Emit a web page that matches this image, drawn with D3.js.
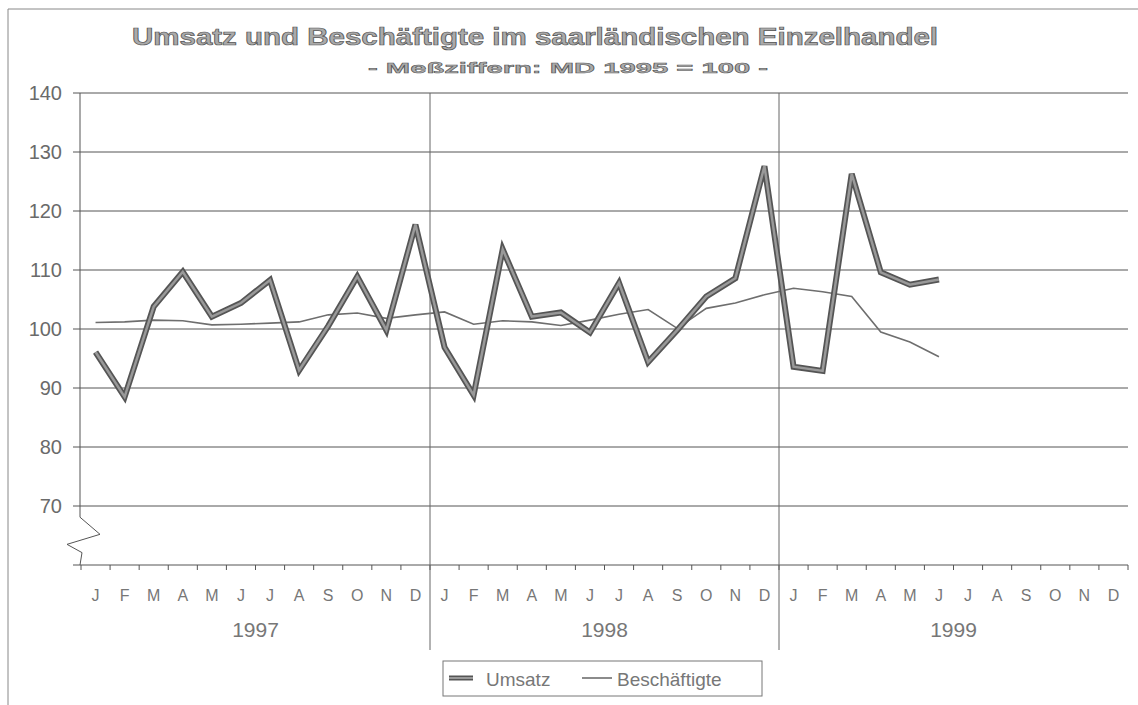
<!DOCTYPE html>
<html>
<head>
  <meta charset='utf-8'>
  <title>Umsatz und Beschäftigte</title>
  <style type='text/css'>
body{
  margin:0;
  background:#fff;
}
text{
  font-family:'Liberation Sans', Arial, sans-serif;
}
  </style>
</head>
<body>
<div id='chart'></div>
<script src='https://d3js.org/d3.v7.min.js'></script>
<script type='text/javascript'>

// data
var months = ['J','F','M','A','M','J','J','A','S','O','N','D'];
var years = ['1997','1998','1999'];
var yTicks = [70, 80, 90, 100, 110, 120, 130, 140];

var umsatz = [96.1, 88.5, 103.8, 109.7, 102.1, 104.4, 108.3, 93.0, 100.5, 108.9, 99.8, 117.7,
              96.9, 88.8, 113.5, 102.1, 102.8, 99.4, 107.8, 94.4, 99.8, 105.5, 108.6, 127.6,
              93.6, 92.9, 126.3, 109.6, 107.5, 108.4];
var beschaeftigte = [101.1, 101.2, 101.5, 101.4, 100.7, 100.8, 101.0, 101.2, 102.4, 102.7, 101.8, 102.4,
                     102.9, 100.8, 101.4, 101.2, 100.6, 101.5, 102.5, 103.3, 100.1, 103.5, 104.4, 105.8,
                     106.9, 106.3, 105.5, 99.5, 97.8, 95.3];

(function(){
var W = 1138, H = 705;
var pL = 81, pR = 1128, pT = 93, pB = 565;

var svg = d3.select('#chart').append('svg')
    .attr('width', W)
    .attr('height', H);

// frame (top + left edge of the scanned page)
svg.append('line').attr('x1', 8).attr('x2', W).attr('y1', 9).attr('y2', 9)
   .style('stroke', '#888').style('stroke-width', 1);
svg.append('line').attr('x1', 8).attr('x2', 8).attr('y1', 9).attr('y2', H)
   .style('stroke', '#888').style('stroke-width', 1);

// slots: one per month over 3 years
var slots = d3.range(years.length * 12);
var x = d3.scaleBand().domain(slots).range([pL, pR]);
var y = d3.scaleLinear().domain([60, 140]).range([pB, pT]);

// gridlines + y labels
svg.selectAll('.grid').data(yTicks).enter().append('line')
   .attr('x1', pL - 8).attr('x2', pR)
   .attr('y1', function(d){ return y(d); })
   .attr('y2', function(d){ return y(d); })
   .style('stroke', '#555').style('stroke-width', 1);

svg.selectAll('.ylab').data(yTicks).enter().append('text')
   .attr('x', 62)
   .attr('y', function(d){ return y(d) + 7; })
   .attr('text-anchor', 'end')
   .style('font-size', '20px')
   .style('fill', '#6a6a6a')
   .text(function(d){ return d; });

// x axis line + ticks at month boundaries
svg.append('line').attr('x1', pL - 8).attr('x2', pR)
   .attr('y1', y(60)).attr('y2', y(60))
   .style('stroke', '#555').style('stroke-width', 1);
svg.selectAll('.xtick').data(d3.range(slots.length + 1)).enter().append('line')
   .attr('x1', function(i){ return pL + i * x.step(); })
   .attr('x2', function(i){ return pL + i * x.step(); })
   .attr('y1', y(60)).attr('y2', y(60) + 5)
   .style('stroke', '#555').style('stroke-width', 1);

// y axis with the broken-scale zigzag
var brk = [[0, 140], [0, 68.1], [20, 65.2], [-13, 63.5], [2, 62.1], [0, 60]];
svg.append('path')
   .attr('d', d3.line()
       .x(function(p){ return pL - 1 + p[0]; })
       .y(function(p){ return y(p[1]); })(brk))
   .style('fill', 'none').style('stroke', '#555').style('stroke-width', 1);

// year separators
svg.selectAll('.sep').data([1, 2]).enter().append('line')
   .attr('x1', function(k){ return x(k * 12); })
   .attr('x2', function(k){ return x(k * 12); })
   .attr('y1', pT).attr('y2', 650)
   .style('stroke', '#666').style('stroke-width', 1);

// month labels
svg.selectAll('.mlab').data(slots).enter().append('text')
   .attr('x', function(i){ return x(i) + x.bandwidth() / 2; })
   .attr('y', 601)
   .attr('text-anchor', 'middle')
   .style('font-size', '16px')
   .style('fill', '#777')
   .text(function(i){ return months[i % 12]; });

// year labels
svg.selectAll('.ylabel').data(years).enter().append('text')
   .attr('x', function(d, k){ return x(k * 12) + 6 * x.step(); })
   .attr('y', 637)
   .attr('text-anchor', 'middle')
   .style('font-size', '21px')
   .style('fill', '#777')
   .text(function(d){ return d; });

// series
var line = d3.line()
   .x(function(d, i){ return x(i) + x.bandwidth() / 2; })
   .y(function(d){ return y(d); });

svg.append('path').attr('d', line(beschaeftigte))
   .style('fill', 'none').style('stroke', '#6e6e6e').style('stroke-width', 1.6);

svg.append('path').attr('d', line(umsatz))
   .style('fill', 'none').style('stroke', '#555').style('stroke-width', 6)
   .style('stroke-linejoin', 'miter');
svg.append('path').attr('d', line(umsatz))
   .style('fill', 'none').style('stroke', '#999').style('stroke-width', 2.5)
   .style('stroke-linejoin', 'miter');

// title
svg.append('text')
   .attr('x', 535).attr('y', 45)
   .attr('text-anchor', 'middle')
   .attr('textLength', 806).attr('lengthAdjust', 'spacingAndGlyphs')
   .style('font-size', '23px').style('font-weight', 'bold')
   .style('fill', '#aaa').style('stroke', '#555').style('stroke-width', 0.7)
   .text('Umsatz und Beschäftigte im saarländischen Einzelhandel');

svg.append('text')
   .attr('x', 568).attr('y', 73)
   .attr('text-anchor', 'middle')
   .attr('textLength', 400).attr('lengthAdjust', 'spacingAndGlyphs')
   .style('font-size', '15px').style('font-weight', 'bold')
   .style('fill', '#aaa').style('stroke', '#555').style('stroke-width', 0.5)
   .text('- Meßziffern: MD 1995 = 100 -');

// legend
var lg = svg.append('g').attr('transform', 'translate(443,661)');
lg.append('rect').attr('width', 319).attr('height', 35)
  .style('fill', '#fff').style('stroke', '#777').style('stroke-width', 1);
lg.append('line').attr('x1', 6).attr('x2', 30).attr('y1', 17).attr('y2', 17)
  .style('stroke', '#555').style('stroke-width', 5);
lg.append('line').attr('x1', 6).attr('x2', 30).attr('y1', 17).attr('y2', 17)
  .style('stroke', '#999').style('stroke-width', 2);
lg.append('text').attr('x', 43).attr('y', 25)
  .style('font-size', '19px').style('fill', '#777').text('Umsatz');
lg.append('line').attr('x1', 139).attr('x2', 169).attr('y1', 17).attr('y2', 17)
  .style('stroke', '#6e6e6e').style('stroke-width', 1.6);
lg.append('text').attr('x', 174).attr('y', 25)
  .style('font-size', '19px').style('fill', '#777').text('Beschäftigte');
})();

</script>
</body>
</html>
